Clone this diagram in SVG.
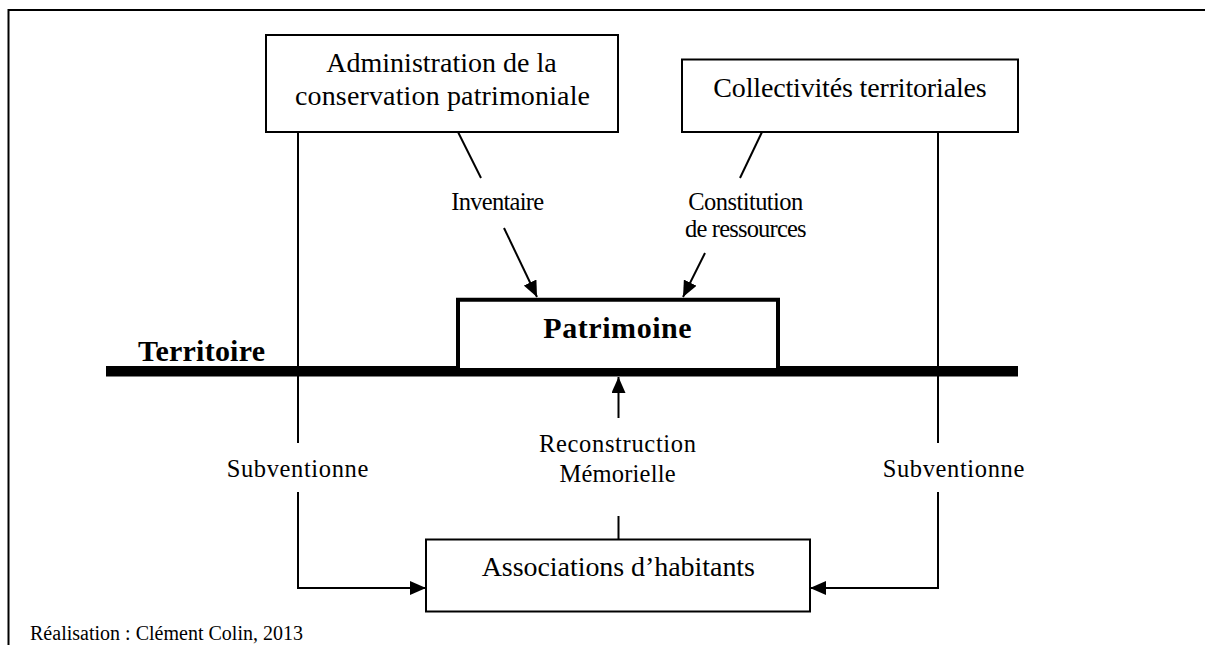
<svg xmlns="http://www.w3.org/2000/svg" width="1205" height="655" viewBox="0 0 1205 655">
<style>
.bg{fill:#fff}
.box{fill:#fff;stroke:#000;stroke-width:2}
.thin{fill:none;stroke:#000;stroke-width:2}
.t{font-family:"Liberation Serif","DejaVu Serif","Times New Roman",serif;font-weight:normal;fill:#000;text-anchor:middle}
.bx{font-size:28px}
.lb{font-size:24.5px}
.bold{font-family:"Liberation Serif","DejaVu Serif",serif;font-weight:bold;font-size:30px;fill:#000}
.cr{font-family:"Liberation Serif","DejaVu Serif",serif;font-size:20px;fill:#000}
</style>
<defs>
<marker id="ah" markerUnits="userSpaceOnUse" markerWidth="16" markerHeight="14" refX="16" refY="7" orient="auto">
<path d="M0,0 L16,7 L0,14 z" fill="#000"/>
</marker>
</defs>
<rect class="bg" x="0" y="0" width="1205" height="655"/>
<g id="frame">
<path class="thin" d="M8.5,645 V10 H1205"/>
</g>
<g id="territoire">
<rect x="106" y="366" width="912" height="10.5" fill="#000"/>
<text class="bold" x="138" y="361" textLength="127">Territoire</text>
</g>
<g id="connectors">
<line class="thin" x1="458" y1="132" x2="481" y2="178"/>
<line class="thin" x1="504" y1="228" x2="537" y2="297" marker-end="url(#ah)"/>
<line class="thin" x1="762" y1="132" x2="740" y2="178"/>
<line class="thin" x1="705" y1="253" x2="683" y2="297" marker-end="url(#ah)"/>
<line class="thin" x1="298" y1="132" x2="298" y2="443"/>
<polyline class="thin" points="298,492 298,588 426,588" marker-end="url(#ah)"/>
<line class="thin" x1="938" y1="132" x2="938" y2="443"/>
<polyline class="thin" points="938,492 938,588 810,588" marker-end="url(#ah)"/>
<line class="thin" x1="618.5" y1="539" x2="618.5" y2="516"/>
<line class="thin" x1="618.5" y1="418" x2="618.5" y2="377" marker-end="url(#ah)"/>
<text class="t lb" x="497.7" y="210" textLength="93">Inventaire</text>
<text class="t lb" x="745.8" y="210" textLength="115">Constitution</text>
<text class="t lb" x="745.8" y="236.7" textLength="121.5">de ressources</text>
<text class="t lb" x="297.5" y="476.7" textLength="141.5">Subventionne</text>
<text class="t lb" x="953.5" y="476.7" textLength="141.5">Subventionne</text>
<text class="t lb" x="617.5" y="452.3" textLength="157">Reconstruction</text>
<text class="t lb" x="617.5" y="481.7" textLength="116">Mémorielle</text>
</g>
<g id="admin">
<rect class="box" x="266" y="35" width="352" height="97"/>
<text class="t bx" x="441.5" y="71.5" textLength="230.5">Administration de la</text>
<text class="t bx" x="442.5" y="105" textLength="295">conservation patrimoniale</text>
</g>
<g id="collectivites">
<rect class="box" x="682" y="59.5" width="336" height="72.5"/>
<text class="t bx" x="850" y="96.7" textLength="273.4">Collectivités territoriales</text>
</g>
<g id="patrimoine">
<path d="M458,368 V299.7 H778 V368" fill="#fff" stroke="#000" stroke-width="4"/>
<text class="bold" x="617.5" y="338.3" text-anchor="middle" textLength="148.4">Patrimoine</text>
</g>
<g id="associations">
<rect class="box" x="426" y="539.5" width="384" height="72"/>
<text class="t bx" x="618.3" y="576" textLength="273.3">Associations d’habitants</text>
</g>
<g id="credit">
<text class="cr" x="30" y="640" textLength="273">Réalisation : Clément Colin, 2013</text>
</g>
</svg>
